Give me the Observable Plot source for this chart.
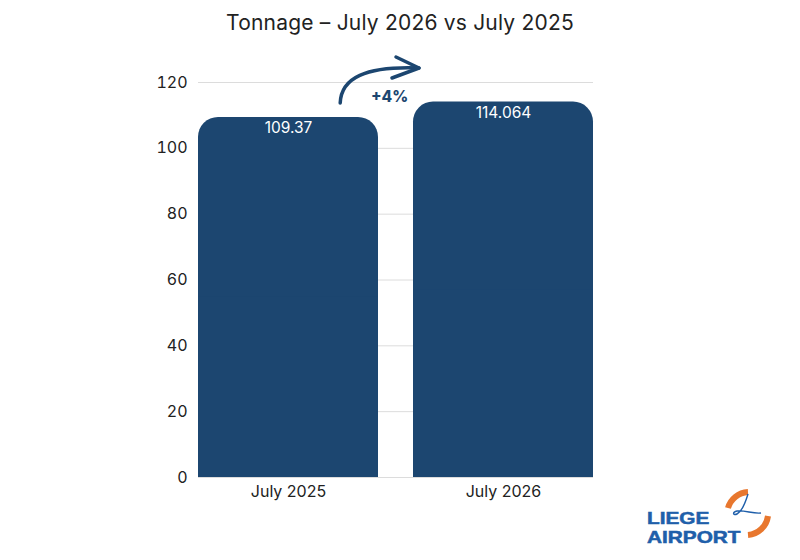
<!DOCTYPE html>
<html>
<head>
<meta charset="utf-8">
<script src="https://cdn.jsdelivr.net/npm/d3@7"></script>
<script src="https://cdn.jsdelivr.net/npm/@observablehq/plot@0.6"></script>
<style>
  html, body { margin: 0; padding: 0; background: #fff; }
  #wrap { position: relative; width: 800px; height: 560px; font-family: Inter, "Open Sans", sans-serif; }
  #title { height: 44px; line-height: 46px; text-align: center; font-size: 21px; color: #222; letter-spacing: 0.2px; }
  #logo { position: absolute; left: 640px; top: 486px; }
</style>
</head>
<body>
<div id="wrap">
  <div id="title">Tonnage – July 2026 vs July 2025</div>
  <div id="chart"></div>
  <svg id="logo" width="150" height="62" viewBox="0 0 150 62">
    <g transform="translate(7,0) scale(1.3,1)">
      <text x="0" y="38" font-family="Liberation Sans, Arial, sans-serif" font-weight="bold" font-size="16" fill="#1f5faa" stroke="#1f5faa" stroke-width="0.5">LIEGE</text>
      <text x="0" y="57" font-family="Liberation Sans, Arial, sans-serif" font-weight="bold" font-size="16" fill="#1f5faa" stroke="#1f5faa" stroke-width="0.5">AIRPORT</text>
    </g>
    <path d="M 88 22 A 22 22 0 0 1 108 6" fill="none" stroke="#e8772e" stroke-width="6"/>
    <path d="M 128 30 A 22 22 0 0 1 108 49" fill="none" stroke="#e8772e" stroke-width="6"/>
    <path d="M 108 8 C 105 18 101 26 97 28 C 93 30 92 26 97 25 C 105 24 113 28 121 27" fill="none" stroke="#1f5faa" stroke-width="1.4"/>
  </svg>
</div>
<script>
const categories = ["July 2025", "July 2026"];
const tonnage = [109.37, 114.064];
const labels = ["109.37", "114.064"];
const yTicks = [0, 20, 40, 60, 80, 100, 120];
const changeLabel = "+4%";

const rows = categories.map((c, i) => ({cat: c, value: tonnage[i], label: labels[i]}));
const barColor = "#1c4670";

function changeArrow(index, scales) {
  const x = scales.x, y = scales.y, bw = x.bandwidth();
  const x0 = x(categories[0]) + bw * 0.79;
  const y0 = y(tonnage[0]) - 14;
  const x1 = x(categories[1]) + 6;
  const y1 = y(yTicks[yTicks.length - 1]) - 14;
  const g = d3.create("svg:g");
  g.append("path")
    .attr("d", `M ${x0} ${y0} C ${x0 + 1} ${y1 + 10} ${x0 + 25} ${y1 - 2} ${x1} ${y1}`)
    .attr("fill", "none").attr("stroke", barColor).attr("stroke-width", 3.5).attr("stroke-linecap", "round");
  g.append("path")
    .attr("d", `M ${x1 - 23} ${y1 - 11} L ${x1} ${y1} L ${x1 - 27} ${y1 + 10}`)
    .attr("fill", "none").attr("stroke", barColor).attr("stroke-width", 3.5)
    .attr("stroke-linecap", "round").attr("stroke-linejoin", "round");
  g.append("text")
    .attr("x", (x0 + x1) / 2 + 10).attr("y", y1 + 30)
    .attr("text-anchor", "middle").attr("dominant-baseline", "middle")
    .attr("font-weight", 800).attr("font-size", 15.5).attr("fill", barColor)
    .text(changeLabel);
  return g.node();
}

const chart = Plot.plot({
  width: 800,
  height: 516,
  marginTop: 38,
  marginBottom: 83,
  marginLeft: 198,
  marginRight: 207,
  style: { fontFamily: "Inter, 'Open Sans', sans-serif", fontSize: "16px", color: "#222", background: "#fff" },
  x: { domain: categories, paddingInner: 0.163, paddingOuter: 0, label: null, tickSize: 0, tickPadding: 8 },
  y: { domain: [0, 120], ticks: yTicks, label: null, tickSize: 0, tickPadding: 11 },
  marks: [
    Plot.ruleY(yTicks, { stroke: "#dcdcdc", strokeWidth: 1 }),
    Plot.barY(rows, { x: "cat", y: "value", fill: barColor, rx: 20 }),
    Plot.barY(rows, { x: "cat", y: d => d.value / 2, fill: barColor }),
    Plot.text(rows, { x: "cat", y: "value", text: "label", fill: "white", dy: 11, fontSize: 15.5 }),
    changeArrow
  ]
});
document.getElementById("chart").appendChild(chart);
</script>
</body>
</html>
